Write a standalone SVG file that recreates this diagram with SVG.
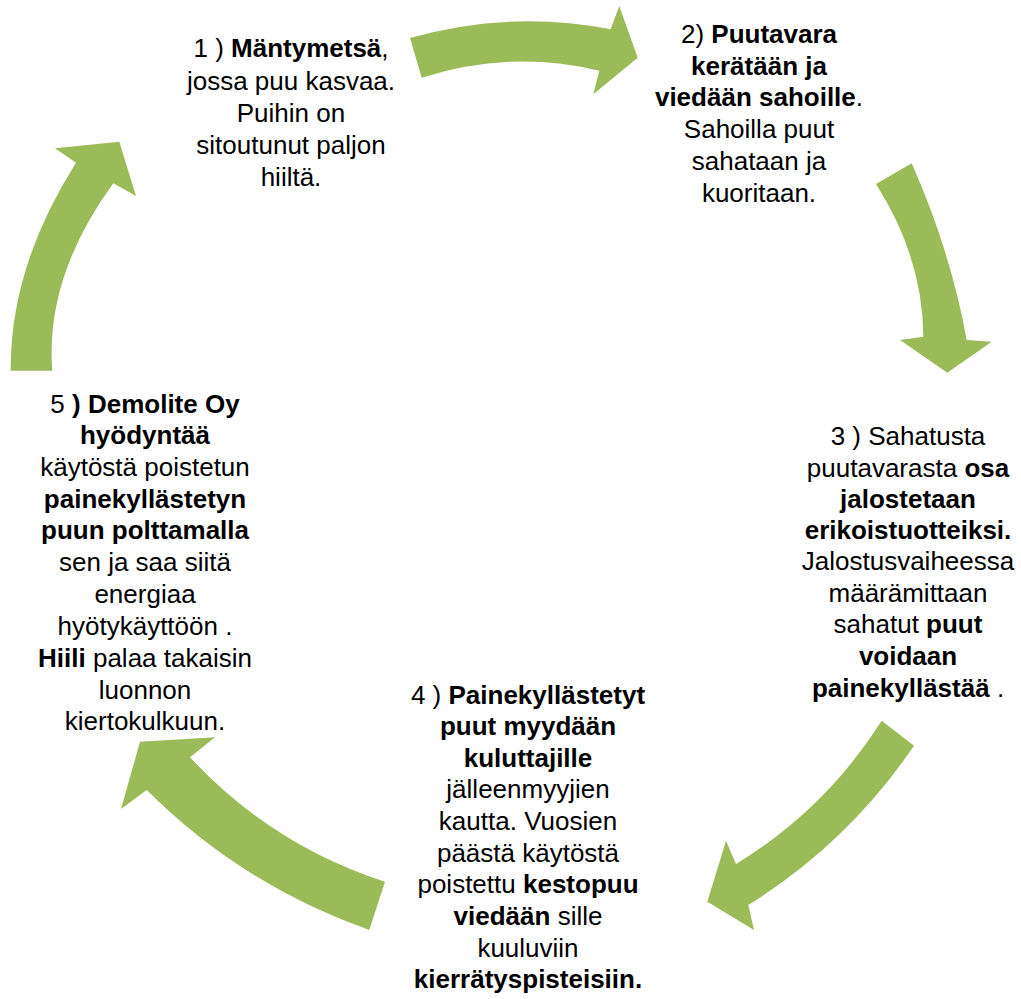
<svg xmlns="http://www.w3.org/2000/svg" width="1021" height="999" viewBox="0 0 1021 999">
<style>
.arrow{fill:#9BBB59;stroke:none}
text{font-family:"Liberation Sans",Arial,sans-serif;font-size:26px;fill:#000;text-anchor:middle}
.b{font-weight:bold}
</style>
<rect width="1021" height="999" fill="#fff"/>
<g id="connectors">
<path class="arrow" d="M410,38 Q510,9.7 610.7,29.3 L619.3,6 L637.7,57.7 L593.3,94.3 L599.3,70.7 Q510.5,49.2 421.7,77.7 Z"/>
<path class="arrow" d="M876,184 L911.7,163.3 Q950.8,251.6 966.7,340 L991.7,341.7 L947.3,372.7 L900,340 L923.3,336.7 Q923,258 876,184 Z"/>
<path class="arrow" d="M881.7,720.7 L914,745.7 Q848,843 748.3,905 L754,930 L707.3,901.7 L726,840.7 L736,864 Q825,810 881.7,720.7 Z"/>
<path class="arrow" d="M385,881.7 L369.3,930 Q242,885 146.7,790 L121,809 L140,741.7 L215,737.3 L190,757.3 Q271.5,845 385,881.7 Z"/>
<path class="arrow" d="M10.7,370.7 L52.3,370.7 Q45,277 113.3,183.3 L136,196 L119.3,141.7 L55,148.3 L76,162.7 Q10,266.7 10.7,370.7 Z"/>
</g>
<g id="node1">
<text x="291" y="57">1 ) <tspan class="b">Mäntymetsä</tspan>,</text>
<text x="291" y="90">jossa puu kasvaa.</text>
<text x="291" y="122">Puihin on</text>
<text x="291" y="154">sitoutunut paljon</text>
<text x="291" y="186">hiiltä.</text>
</g>
<g id="node2">
<text x="759" y="43">2) <tspan class="b">Puutavara</tspan></text>
<text x="759" y="75" class="b">kerätään ja</text>
<text x="759" y="106"><tspan class="b">viedään sahoille</tspan>.</text>
<text x="759" y="138">Sahoilla puut</text>
<text x="759" y="170">sahataan ja</text>
<text x="759" y="202">kuoritaan.</text>
</g>
<g id="node3">
<text x="908" y="445">3 ) Sahatusta</text>
<text x="908" y="477">puutavarasta <tspan class="b">osa</tspan></text>
<text x="908" y="508" class="b">jalostetaan</text>
<text x="908" y="539" class="b">erikoistuotteiksi.</text>
<text x="908" y="570">Jalostusvaiheessa</text>
<text x="908" y="602">määrämittaan</text>
<text x="908" y="633">sahatut <tspan class="b">puut</tspan></text>
<text x="908" y="665" class="b">voidaan</text>
<text x="908" y="697"><tspan class="b">painekyllästää</tspan> .</text>
</g>
<g id="node4">
<text x="528" y="704">4 ) <tspan class="b">Painekyllästetyt</tspan></text>
<text x="528" y="735" class="b">puut myydään</text>
<text x="528" y="767" class="b">kuluttajille</text>
<text x="528" y="798">jälleenmyyjien</text>
<text x="528" y="830">kautta. Vuosien</text>
<text x="528" y="862">päästä käytöstä</text>
<text x="528" y="893">poistettu <tspan class="b">kestopuu</tspan></text>
<text x="528" y="925"><tspan class="b">viedään</tspan> sille</text>
<text x="528" y="957">kuuluviin</text>
<text x="528" y="988" class="b">kierrätyspisteisiin.</text>
</g>
<g id="node5">
<text x="145" y="413">5 <tspan class="b">) Demolite Oy</tspan></text>
<text x="145" y="444" class="b">hyödyntää</text>
<text x="145" y="476">käytöstä poistetun</text>
<text x="145" y="508" class="b">painekyllästetyn</text>
<text x="145" y="539" class="b">puun polttamalla</text>
<text x="145" y="571">sen ja saa siitä</text>
<text x="145" y="603">energiaa</text>
<text x="145" y="635">hyötykäyttöön .</text>
<text x="145" y="667"><tspan class="b">Hiili</tspan> palaa takaisin</text>
<text x="145" y="699">luonnon</text>
<text x="145" y="730">kiertokulkuun.</text>
</g>
</svg>
